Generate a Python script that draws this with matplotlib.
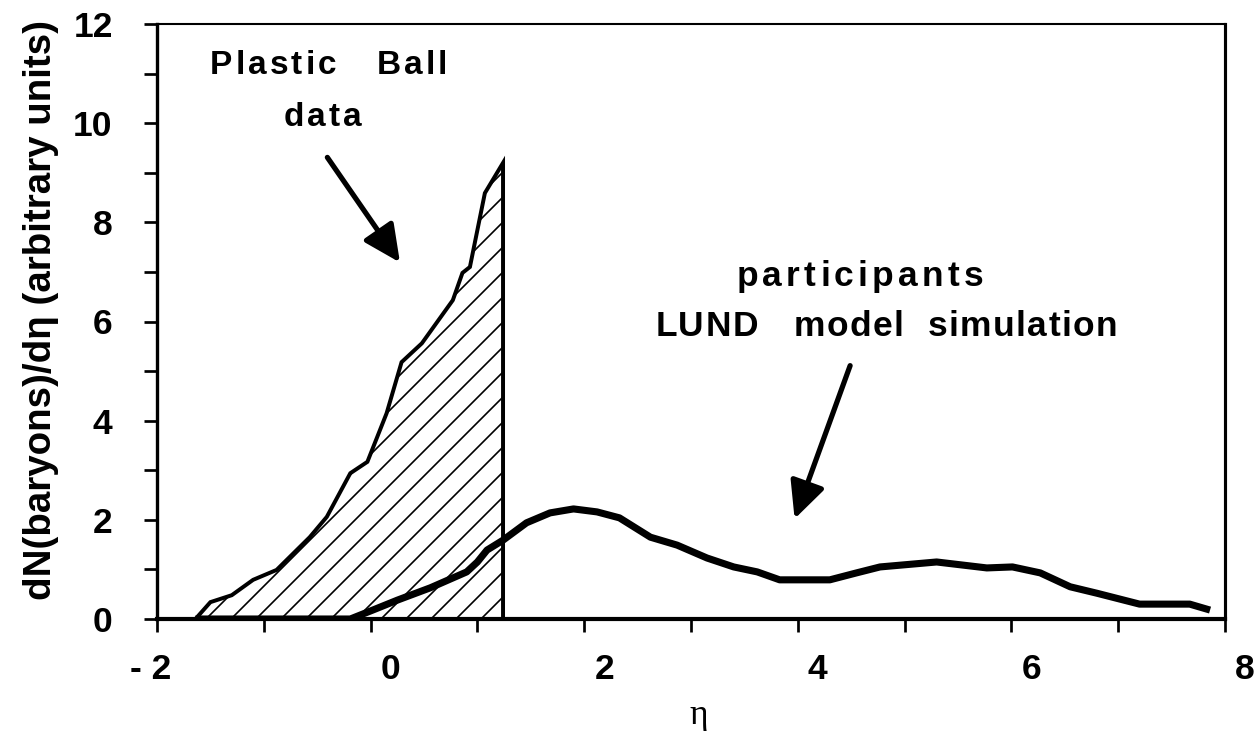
import matplotlib
matplotlib.use("Agg")
import matplotlib.pyplot as plt
from matplotlib.font_manager import FontProperties, findfont, get_font
from matplotlib.transforms import ScaledTranslation

# Plastic Ball measured distribution (hatched region)
pb_eta = [-1.64, -1.50, -1.30, -1.10, -0.88, -0.57, -0.41, -0.19, -0.03,
          0.15, 0.29, 0.48, 0.77, 0.86, 0.93, 1.07, 1.24]
pb_dn = [0.00, 0.34, 0.48, 0.79, 0.99, 1.65, 2.06, 2.94, 3.17,
         4.15, 5.18, 5.56, 6.43, 6.98, 7.10, 8.59, 9.20]

# LUND model simulation of participant baryons
lund_eta = [-1.64, -0.19, 0.02, 0.25, 0.56, 0.90, 1.00, 1.09, 1.24, 1.46,
            1.68, 1.90, 2.12, 2.33, 2.62, 2.87, 3.15, 3.40, 3.62, 3.83,
            4.30, 4.55, 4.77, 5.30, 5.77, 6.01, 6.27, 6.55, 6.80, 7.20,
            7.67, 7.86]
lund_dn = [0.00, 0.00, 0.18, 0.38, 0.63, 0.95, 1.15, 1.39, 1.59, 1.94,
           2.14, 2.22, 2.16, 2.04, 1.65, 1.49, 1.23, 1.05, 0.95, 0.79,
           0.79, 0.93, 1.05, 1.15, 1.03, 1.05, 0.93, 0.65, 0.52, 0.30,
           0.30, 0.18]

x_ticks = [-2, 0, 2, 4, 6, 8]
x_ticklabels = ["- 2", "0", "2", "4", "6", "8"]
y_ticks = [0, 2, 4, 6, 8, 10, 12]
y_ticklabels = ["0", "2", "4", "6", "8", "10", "12"]

DPI = 150
plt.rcParams["hatch.linewidth"] = 0.8
plt.rcParams["hatch.color"] = "black"

fig = plt.figure(figsize=(1260 / DPI, 731 / DPI), dpi=DPI, facecolor="white")
ax = fig.add_axes([157 / 1260, 112 / 731, 1068 / 1260, 595 / 731])

# hatched data region
ax.fill_between(pb_eta + [pb_eta[-1]], pb_dn + [0.0], 0, facecolor="white",
                edgecolor="none", hatch="//", zorder=2)
ax.plot(pb_eta + [pb_eta[-1]], pb_dn + [0.0], color="black", lw=1.9,
        solid_joinstyle="miter", zorder=3)

# simulation curve
ax.plot(lund_eta, lund_dn, color="black", lw=3.4, solid_capstyle="butt",
        solid_joinstyle="round", zorder=4)

ax.set_xlim(-2, 8)
ax.set_ylim(0, 12)

bold = dict(family=["Liberation Sans", "DejaVu Sans"], weight="bold")

ax.set_xticks(x_ticks)
ax.set_xticklabels(x_ticklabels, fontsize=17, **bold)
ax.set_xticks(range(-1, 8, 2), minor=True)
ax.set_yticks(y_ticks)
ax.set_yticklabels(y_ticklabels, fontsize=17, **bold)
ax.set_yticks(range(1, 12, 2), minor=True)

ax.tick_params(axis="both", which="both", direction="out", length=6.3,
               width=1.3, color="black")
ax.tick_params(axis="x", which="major", pad=10)
ax.tick_params(axis="y", which="major", pad=15)

# shift x tick labels slightly right of their ticks
shifts_px = [-6, 20, 20, 20, 20, 20]
for lbl, dx in zip(ax.get_xticklabels(), shifts_px):
    lbl.set_transform(lbl.get_transform()
                      + ScaledTranslation(dx / DPI, 0, fig.dpi_scale_trans))

ax.spines["left"].set_linewidth(1.6)
ax.spines["bottom"].set_linewidth(2.0)
ax.spines["top"].set_linewidth(1.0)
ax.spines["right"].set_linewidth(1.5)

ax.set_ylabel("dN(baryons)/d\u03b7 (arbitrary units)", fontsize=18.5, **bold)
ax.yaxis.set_label_coords(-0.092, 0.52)
ax.set_xlabel("\u03b7", fontsize=17, family=["Liberation Serif", "DejaVu Serif"])
ax.xaxis.set_label_coords(0.5 + 8 / 1068, -0.134)


def spaced_text(x, y, s, size, track):
    """Draw bold text centred on (x, y) with extra letter spacing (points)."""
    fp = FontProperties(family="Liberation Sans", weight="bold", size=size)
    font = get_font(findfont(fp))
    font.set_size(size, 72)
    adv = [font.load_char(ord(ch)).linearHoriAdvance / 65536 for ch in s]
    total = sum(adv) + track * (len(s) - 1)
    off = -total / 2
    for ch, a in zip(s, adv):
        if ch != " ":
            ax.annotate(ch, xy=(x, y), xycoords="data", xytext=(off, 0),
                        textcoords="offset points", ha="left", va="baseline",
                        fontproperties=fp, annotation_clip=False)
        off += a + track


spaced_text(-0.394, 10.99, "Plastic   Ball", 16, 1.5)
spaced_text(-0.45, 9.94, "data", 16, 1.5)
spaced_text(4.58, 6.72, "participants", 17, 2.0)
spaced_text(4.83, 5.70, "LUND   model  simulation", 17, 0.7)

arrow = dict(arrowstyle="-|>,head_length=0.75,head_width=0.36", lw=2.5,
             color="black", shrinkA=0, shrinkB=0, mutation_scale=20)
ax.annotate("", xy=(0.275, 7.19), xytext=(-0.405, 9.31), arrowprops=arrow)
ax.annotate("", xy=(3.97, 2.02), xytext=(4.49, 5.11), arrowprops=arrow)

fig.savefig("out.png", dpi=DPI, facecolor="white")
